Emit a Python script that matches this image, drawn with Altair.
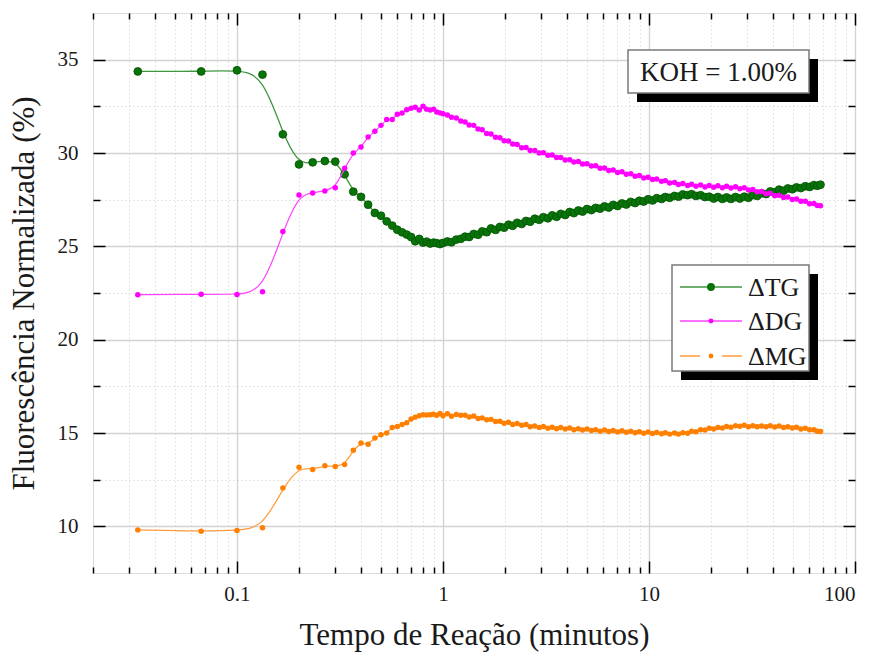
import altair as alt
import pandas as pd

# ---------------- data ----------------
time_min = [
    0.033, 0.067, 0.1, 0.133, 0.167, 0.2, 0.233, 0.267, 0.3, 0.333,
    0.367, 0.4, 0.433, 0.467, 0.5, 0.533, 0.567, 0.6, 0.633, 0.667,
    0.7, 0.733, 0.767, 0.8, 0.833, 0.867, 0.9, 0.933, 0.967, 1.0,
    1.05, 1.10, 1.16, 1.22, 1.28, 1.34, 1.41, 1.48, 1.55, 1.63,
    1.71, 1.80, 1.89, 1.98, 2.08, 2.18, 2.29, 2.41, 2.53, 2.65,
    2.79, 2.93, 3.07, 3.23, 3.39, 3.56, 3.73, 3.92, 4.12, 4.32,
    4.54, 4.76, 5.00, 5.25, 5.51, 5.79, 6.08, 6.38, 6.70, 7.04,
    7.39, 7.76, 8.15, 8.56, 8.98, 9.43, 9.90, 10.4, 10.9, 11.5,
    12.0, 12.6, 13.3, 13.9, 14.6, 15.4, 16.1, 16.9, 17.8, 18.7,
    19.6, 20.6, 21.6, 22.7, 23.8, 25.0, 26.3, 27.6, 29.0, 30.4,
    31.9, 33.5, 35.2, 37.0, 38.8, 40.8, 42.8, 45.0, 47.2, 49.6,
    52.0, 54.6, 57.4, 60.2, 63.2, 65.6, 68.0,
]

tg = [
    34.37, 34.37, 34.43, 34.2, 31.0, 29.39, 29.5, 29.57, 29.54, 28.86,
    27.93, 27.65, 27.23, 26.79, 26.64, 26.34, 26.11, 25.89, 25.75, 25.63,
    25.5, 25.27, 25.4, 25.2, 25.25, 25.15, 25.2, 25.17, 25.12, 25.18,
    25.26, 25.22, 25.36, 25.4, 25.52, 25.5, 25.66, 25.62, 25.8, 25.76,
    25.96, 25.88, 26.04, 26.0, 26.16, 26.1, 26.26, 26.2, 26.36, 26.32,
    26.48, 26.42, 26.56, 26.5, 26.66, 26.58, 26.74, 26.68, 26.84, 26.78,
    26.92, 26.86, 27.0, 26.94, 27.06, 27.02, 27.14, 27.08, 27.22, 27.16,
    27.3, 27.24, 27.38, 27.32, 27.44, 27.4, 27.52, 27.46, 27.58, 27.54,
    27.64, 27.6, 27.7, 27.66, 27.78, 27.74, 27.8, 27.7, 27.74, 27.64,
    27.66, 27.56, 27.64, 27.54, 27.62, 27.54, 27.64, 27.56, 27.66, 27.6,
    27.74, 27.7, 27.84, 27.8, 27.94, 27.9, 28.04, 27.98, 28.1, 28.06,
    28.16, 28.12, 28.22, 28.18, 28.28, 28.24, 28.3,
]

dg = [
    22.41, 22.43, 22.42, 22.57, 25.8, 27.75, 27.86, 27.97, 28.14, 29.18,
    30.0, 30.32, 30.86, 31.16, 31.48, 31.79, 31.79, 32.07, 32.14, 32.32,
    32.4, 32.45, 32.3, 32.5, 32.35, 32.3, 32.35, 32.2, 32.15, 32.1,
    32.04, 31.92, 31.88, 31.72, 31.66, 31.5, 31.48, 31.28, 31.24, 31.04,
    31.02, 30.84, 30.82, 30.66, 30.64, 30.48, 30.46, 30.28, 30.3, 30.14,
    30.14, 30.0, 30.02, 29.88, 29.89, 29.76, 29.76, 29.62, 29.64, 29.52,
    29.54, 29.41, 29.42, 29.3, 29.32, 29.18, 29.2, 29.06, 29.09, 28.96,
    28.99, 28.86, 28.89, 28.76, 28.79, 28.66, 28.7, 28.58, 28.61, 28.48,
    28.52, 28.39, 28.42, 28.31, 28.36, 28.26, 28.32, 28.22, 28.29, 28.18,
    28.26, 28.16, 28.24, 28.14, 28.22, 28.12, 28.19, 28.08, 28.14, 28.02,
    28.04, 27.92, 27.94, 27.82, 27.84, 27.71, 27.74, 27.61, 27.64, 27.51,
    27.54, 27.41, 27.42, 27.28, 27.3, 27.19, 27.18,
]

mg = [
    9.81, 9.74, 9.78, 9.92, 12.06, 13.17, 13.04, 13.25, 13.2, 13.31,
    14.07, 14.47, 14.4, 14.73, 14.91, 15.0, 15.3, 15.35, 15.45, 15.55,
    15.75, 15.85, 15.93, 15.98, 15.96, 15.98, 16.0, 15.95, 16.04, 15.93,
    16.03, 15.9, 15.99, 15.95, 15.95, 15.86, 15.91, 15.78, 15.81, 15.71,
    15.73, 15.61, 15.63, 15.52, 15.57, 15.46, 15.51, 15.41, 15.45, 15.34,
    15.38, 15.29, 15.35, 15.26, 15.31, 15.23, 15.29, 15.21, 15.27, 15.18,
    15.23, 15.16, 15.21, 15.13, 15.18, 15.1, 15.16, 15.08, 15.14, 15.06,
    15.12, 15.04, 15.09, 15.01, 15.07, 14.99, 15.05, 14.97, 15.03, 14.96,
    15.01, 14.94, 15.0, 14.94, 15.01, 14.99, 15.09, 15.07, 15.18, 15.16,
    15.25, 15.21, 15.3, 15.27, 15.35, 15.31, 15.39, 15.36, 15.41, 15.34,
    15.39, 15.33, 15.38, 15.33, 15.39, 15.32, 15.37, 15.3, 15.34, 15.27,
    15.31, 15.22, 15.25, 15.17, 15.18, 15.09, 15.08,
]

series_labels = ["\u0394TG", "\u0394DG", "\u0394MG"]
annotation = "KOH = 1.00%"

x_major_vals = [0.1, 1, 10, 100]
x_minor_vals = [0.02, 0.03, 0.04, 0.05, 0.06, 0.07, 0.08, 0.09,
                0.2, 0.3, 0.4, 0.5, 0.6, 0.7, 0.8, 0.9,
                2, 3, 4, 5, 6, 7, 8, 9,
                20, 30, 40, 50, 60, 70, 80, 90]
y_major_vals = [10, 15, 20, 25, 30, 35]
y_minor_vals = [12.5, 17.5, 22.5, 27.5, 32.5]

# ---------------- styling ----------------
FONT = "Liberation Serif"
W, H = 762, 560
TG_LINE, TG_PT = "#3f963f", "#087308"
DG_LINE, DG_PT = "#ff44ff", "#ff00ff"
MG_LINE, MG_PT = "#ff9a3c", "#ff8000"

xs = alt.Scale(type="log", domain=[0.02, 100])
ys = alt.Scale(domain=[7.5, 37.5], nice=False, zero=False)


def make_axis(orient, values, tick, labels=False, grid=False, dashed=False,
              title="", label_pad=0, title_pad=0, fmt=None):
    kw = dict(
        orient=orient, values=values, domain=False,
        tickSize={"expr": str(-tick)}, tickColor="#000", tickWidth=1.5,
        labels=labels, grid=grid, title=title,
    )
    if labels:
        kw.update(labelFont=FONT, labelFontSize=21, labelColor="#1a1a1a",
                  labelPadding=label_pad)
        if fmt:
            kw["labelExpr"] = fmt
    if grid:
        if dashed:
            kw.update(gridColor="#cccccc", gridWidth=1, gridDash=[1, 3])
        else:
            kw.update(gridColor="#d2d2d2", gridWidth=1.3)
    if title:
        kw.update(titleFont=FONT, titleFontSize=31, titleFontWeight="normal",
                  titleColor="#1a1a1a", titlePadding=title_pad)
    return alt.Axis(**kw)


ax_x_bottom = make_axis("bottom", x_major_vals, 12, labels=True, grid=True,
                        title="Tempo de Reação (minutos)", label_pad=22,
                        title_pad=16, fmt="format(datum.value, '~g')")
ax_x_bottom_minor = make_axis("bottom", x_minor_vals, 6, grid=True, dashed=True)
ax_x_top = make_axis("top", x_major_vals, 12)
ax_x_top_minor = make_axis("top", x_minor_vals, 6)

ax_y_left = make_axis("left", y_major_vals, 12, labels=True, grid=True,
                      title="Fluorescência Normalizada (%)", label_pad=27,
                      title_pad=17)
ax_y_left_minor = make_axis("left", y_minor_vals, 7, grid=True, dashed=True)
ax_y_right = make_axis("right", y_major_vals, 12)
ax_y_right_minor = make_axis("right", y_minor_vals, 7)

df_tg = pd.DataFrame({"t": time_min, "v": tg})
df_dg = pd.DataFrame({"t": time_min, "v": dg})
df_mg = pd.DataFrame({"t": time_min, "v": mg})


def enc(ch, xa, ya):
    return ch.encode(
        x=alt.X("t:Q", scale=xs, axis=xa),
        y=alt.Y("v:Q", scale=ys, axis=ya),
    )


tg_line = enc(alt.Chart(df_tg).mark_line(interpolate="basis", color=TG_LINE, strokeWidth=1.3),
              ax_x_bottom, ax_y_left)
tg_pts = enc(alt.Chart(df_tg).mark_point(shape="circle", filled=True, size=62, color=TG_PT,
                                         stroke="#045404", strokeWidth=0.8, opacity=1),
             ax_x_bottom_minor, ax_y_left_minor)
dg_line = enc(alt.Chart(df_dg).mark_line(interpolate="basis", color=DG_LINE, strokeWidth=1.2),
              ax_x_top, ax_y_right)
dg_pts = enc(alt.Chart(df_dg).mark_point(shape="circle", filled=True, size=30, color=DG_PT, opacity=1),
             ax_x_top_minor, ax_y_right_minor)
mg_line = enc(alt.Chart(df_mg).mark_line(interpolate="basis", color=MG_LINE, strokeWidth=1.2),
              None, None)
mg_pts = enc(alt.Chart(df_mg).mark_point(shape="circle", filled=True, size=30, color=MG_PT, opacity=1),
             None, None)

# ---------------- legend & annotation boxes ----------------
one = pd.DataFrame({"k": [0]})
base = alt.Chart(one)


def box(x0, y0, x1, y1, shadow=9):
    sh = base.mark_rect(color="black").encode(
        x=alt.value(x0 + shadow), x2=alt.value(x1 + shadow),
        y=alt.value(y0 + shadow), y2=alt.value(y1 + shadow))
    bx = base.mark_rect(fill="white", stroke="#7a7a7a", strokeWidth=1.5).encode(
        x=alt.value(x0), x2=alt.value(x1), y=alt.value(y0), y2=alt.value(y1))
    return [sh, bx]


legend_layers = box(579, 252, 716, 358)
rows = [
    (274, series_labels[0], TG_LINE, TG_PT, 62, None),
    (308, series_labels[1], DG_LINE, DG_PT, 24, None),
    (343, series_labels[2], MG_LINE, MG_PT, 24, [20, 22]),
]
for yy, lab, lc, pc, sz, dash in rows:
    rule_kw = dict(color=lc, strokeWidth=1.3)
    if dash:
        rule_kw["strokeDash"] = dash
    legend_layers.append(base.mark_rule(**rule_kw).encode(
        x=alt.value(587), x2=alt.value(649), y=alt.value(yy)))
    legend_layers.append(base.mark_point(shape="circle", filled=True, size=sz,
                                         color=pc, opacity=1).encode(
        x=alt.value(618), y=alt.value(yy)))
    legend_layers.append(base.mark_text(align="left", baseline="middle", font=FONT,
                                        fontSize=26, color="#1a1a1a").encode(
        x=alt.value(655), y=alt.value(yy + 1), text=alt.value(lab)))

annot_layers = box(535, 37, 716, 80)
annot_layers.append(base.mark_text(align="center", baseline="middle", font=FONT,
                                   fontSize=27, color="#1a1a1a").encode(
    x=alt.value(625.5), y=alt.value(59.5), text=alt.value(annotation)))

chart = alt.layer(
    tg_line, tg_pts, dg_line, dg_pts, mg_line, mg_pts,
    *annot_layers, *legend_layers,
).resolve_axis(
    x="independent", y="independent"
).properties(
    width=W, height=H,
    autosize=alt.AutoSizeParams(type="none"),
    padding={"left": 93, "top": 13, "right": 21, "bottom": 89},
).configure_view(
    stroke="black", strokeWidth=2
).configure_axis(
    labelFont=FONT, titleFont=FONT
).configure_text(
    font=FONT
).configure(background="white")

chart.save("out.html", embed_options={"renderer": "svg", "actions": False})
